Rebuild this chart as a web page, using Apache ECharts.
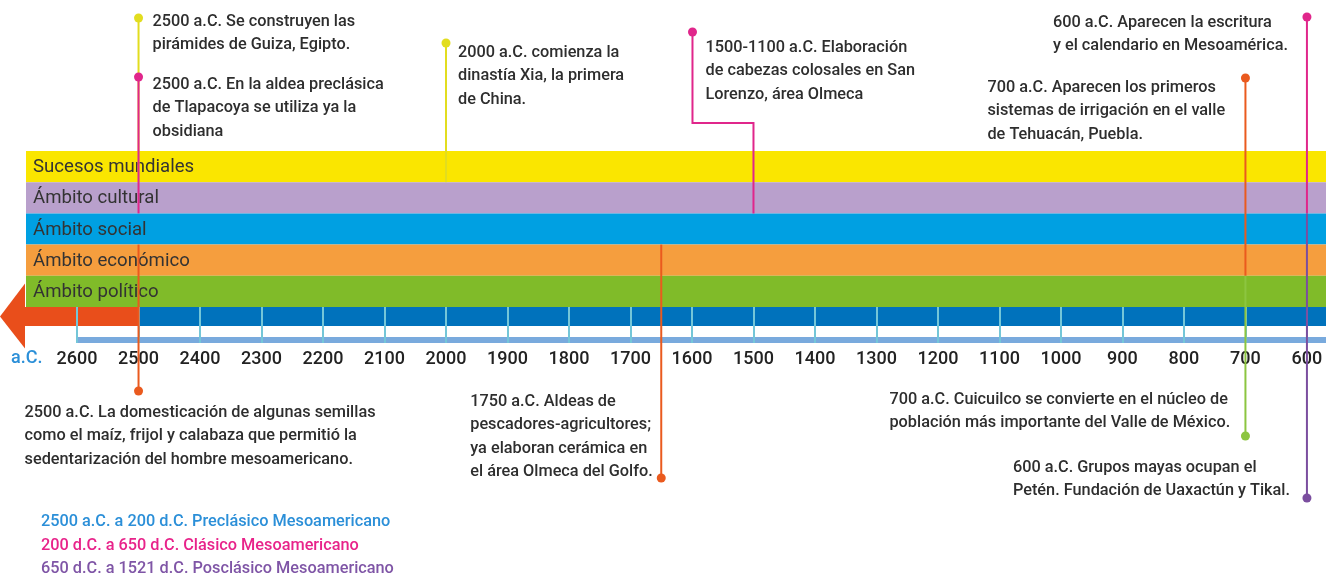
<!DOCTYPE html>
<html><head><meta charset="utf-8">
<script src="https://cdn.jsdelivr.net/npm/echarts@6/dist/echarts.min.js"></script>
<style>html,body{margin:0;padding:0;background:#fff}#c{width:1326px;height:584px}</style>
</head><body><div id="c"></div>
<script>
// ---------- data ----------
const bandNames = ['Sucesos mundiales', 'Ámbito cultural', 'Ámbito social', 'Ámbito económico', 'Ámbito político'];
const bandRange = [2683, 569];          // years a.C. covered by the bands (left -> right)
const tickYears = [2600, 2500, 2400, 2300, 2200, 2100, 2000, 1900, 1800, 1700, 1600, 1500, 1400, 1300, 1200, 1100, 1000, 900, 800, 700, 600];
const arrowSplitYear = 2500;            // start of the Preclásico strip
const axisStartYear = 2600;
const eventYears = [2500, 2500, 2500, 2000, 1500, 1650, 700, 600, 700, 600];
const eventBands = [0, 1, 3, 0, 1, 3, 3, 1, 4, 2];
const eventTexts = [
  '2500 a.C. Se construyen las\npirámides de Guiza, Egipto.',
  '2500 a.C. En la aldea preclásica\nde Tlapacoya se utiliza ya la\nobsidiana',
  '2500 a.C. La domesticación de algunas semillas\ncomo el maíz, frijol y calabaza que permitió la\nsedentarización del hombre mesoamericano.',
  '2000 a.C. comienza la\ndinastía Xia, la primera\nde China.',
  '1500-1100 a.C. Elaboración\nde cabezas colosales en San\nLorenzo, área Olmeca',
  '1750 a.C. Aldeas de\npescadores-agricultores;\nya elaboran cerámica en\nel área Olmeca del Golfo.',
  '700 a.C. Aparecen los primeros\nsistemas de irrigación en el valle\nde Tehuacán, Puebla.',
  '600 a.C. Aparecen la escritura\ny el calendario en Mesoamérica.',
  '700 a.C. Cuicuilco se convierte en el núcleo de\npoblación más importante del Valle de México.',
  '600 a.C. Grupos mayas ocupan el\nPetén. Fundación de Uaxactún y Tikal.'
];
const periodLabels = [
  '2500 a.C. a 200 d.C. Preclásico Mesoamericano',
  '200 d.C. a 650 d.C. Clásico Mesoamericano',
  '650 d.C. a 1521 d.C. Posclásico Mesoamericano'
];
const axisUnit = 'a.C.';

// ---------- styles / layout ----------
const bandColors = ['#fae600', '#b9a0cc', '#00a0e2', '#f59e3e', '#80bb29'];
const eventLineColors = ['#e2dd1f', '#e0268b', '#7b4e9f', '#ea5a1e', '#8cc540'];
const periodColors = ['#2b8fd8', '#e8238a', '#7f55a6'];
const textColor = '#2e2e2e';
const FONT = 'Roboto, "Noto Sans", sans-serif';
const TXT = 16.3, TXTW = 500;
const eventLayout = [
  { dotY: 18,  tx: 14,   ty: 10 },
  { dotY: 77,  tx: 14,   ty: 73 },
  { dotY: 391, tx: -114, ty: 401 },
  { dotY: 43,  tx: 12,   ty: 41 },
  { dotY: 32,  tx: 13,   ty: 36, dx: -61, elbowY: 123 },
  { dotY: 478, tx: -191, ty: 390 },
  { dotY: 78,  tx: -258, ty: 76 },
  { dotY: 17,  tx: -254, ty: 11 },
  { dotY: 436, tx: -356, ty: 388 },
  { dotY: 498, tx: -294, ty: 456 }
];

const chart = echarts.init(document.getElementById('c'));

function bandGeom(api, year, band) {
  const c = api.coord([year, band]);
  const h = api.size([0, 1])[1];
  return { x: c[0], top: c[1] - h / 2, bottom: c[1] + h / 2, cy: c[1], h };
}

const option = {
  animation: false,
  backgroundColor: '#ffffff',
  grid: { left: 26, right: 0, top: 151, height: 156 },
  xAxis: {
    type: 'value', inverse: true, min: bandRange[1], max: bandRange[0],
    z: 5,
    axisLine: { show: false },
    splitLine: { show: false },
    axisTick: { show: true, customValues: tickYears, length: 36, lineStyle: { color: '#74c6d8', width: 2 } },
    axisLabel: { customValues: tickYears, margin: 43, fontSize: 18, fontWeight: 500, color: '#222', fontFamily: FONT,
      formatter: v => String(v) }
  },
  yAxis: { type: 'category', data: bandNames, inverse: true, show: false },
  graphic: [
    { type: 'text', left: 11, top: 349, style: { text: axisUnit, fontSize: 18, fontWeight: 500, fill: '#2b8fd8', fontFamily: FONT } }
  ].concat(periodLabels.map((t, i) => ({
    type: 'text', left: 41, top: 514 + i * 23.5,
    style: { text: t, fontSize: TXT, fontWeight: TXTW, fill: periodColors[i], fontFamily: FONT }
  }))),
  series: [
    {
      type: 'custom', name: 'bands', z: 1,
      data: bandNames.map((n, i) => [bandRange[0], bandRange[1], i]),
      encode: { x: [0, 1], y: 2 },
      renderItem: function (params, api) {
        const i = api.value(2);
        const g0 = bandGeom(api, api.value(0), i);
        const g1 = bandGeom(api, api.value(1), i);
        return {
          type: 'group', children: [
            { type: 'rect', shape: { x: g0.x, y: g0.top, width: g1.x - g0.x, height: g0.h }, style: { fill: bandColors[i] } },
            { type: 'text', style: { text: bandNames[i], x: g0.x + 7, y: g0.cy + 1, verticalAlign: 'middle', fontSize: 18.6, fill: '#333', fontFamily: FONT } }
          ]
        };
      }
    },
    {
      type: 'custom', name: 'timeline', z: 2,
      data: [[arrowSplitYear, axisStartYear, bandRange[0], bandRange[1]]],
      encode: { x: [0, 1, 2, 3] },
      renderItem: function (params, api) {
        const last = bandNames.length - 1;
        const split = bandGeom(api, api.value(0), last);
        const start = bandGeom(api, api.value(1), last);
        const left = bandGeom(api, api.value(2), last);
        const right = bandGeom(api, api.value(3), last);
        const y0 = split.bottom, sh = 19, mid = y0 + sh / 2;
        return {
          type: 'group', children: [
            { type: 'polygon', shape: { points: [[left.x - 1, mid - 33], [left.x - 1, mid + 32], [0, mid]] }, style: { fill: '#e94e1b' } },
            { type: 'rect', shape: { x: left.x - 2, y: y0, width: split.x - left.x + 2, height: sh }, style: { fill: '#e94e1b' } },
            { type: 'rect', shape: { x: split.x, y: y0, width: right.x - split.x, height: sh }, style: { fill: '#0072bc' } },
            { type: 'rect', shape: { x: start.x, y: y0 + 30, width: right.x - start.x, height: 6 }, style: { fill: '#79aadd' } }
          ]
        };
      }
    },
    {
      type: 'custom', name: 'events', z: 6,
      data: eventYears.map((y, i) => [y, eventBands[i], i]),
      encode: { x: 0, y: 1 },
      renderItem: function (params, api) {
        const idx = api.value(2);
        const L = eventLayout[idx];
        const g = bandGeom(api, api.value(0), api.value(1));
        const col = eventLineColors[api.value(1)];
        const dotX = g.x + (L.dx || 0);
        let pts;
        if (L.dotY < g.cy) {
          pts = L.elbowY ? [[dotX, L.dotY], [dotX, L.elbowY], [g.x, L.elbowY], [g.x, g.bottom]]
                         : [[dotX, L.dotY], [g.x, g.bottom]];
        } else {
          pts = [[g.x, g.top], [dotX, L.dotY]];
        }
        return {
          type: 'group', children: [
            { type: 'polyline', shape: { points: pts }, style: { stroke: col, lineWidth: 2, fill: null } },
            { type: 'circle', shape: { cx: dotX, cy: L.dotY, r: 4.5 }, style: { fill: col } },
            { type: 'text', style: { text: eventTexts[idx], x: dotX + L.tx, y: L.ty, verticalAlign: 'top', fontSize: TXT, fontWeight: TXTW, lineHeight: 23.5, fill: textColor, fontFamily: FONT } }
          ]
        };
      }
    }
  ]
};
chart.setOption(option);
</script>
</body></html>
